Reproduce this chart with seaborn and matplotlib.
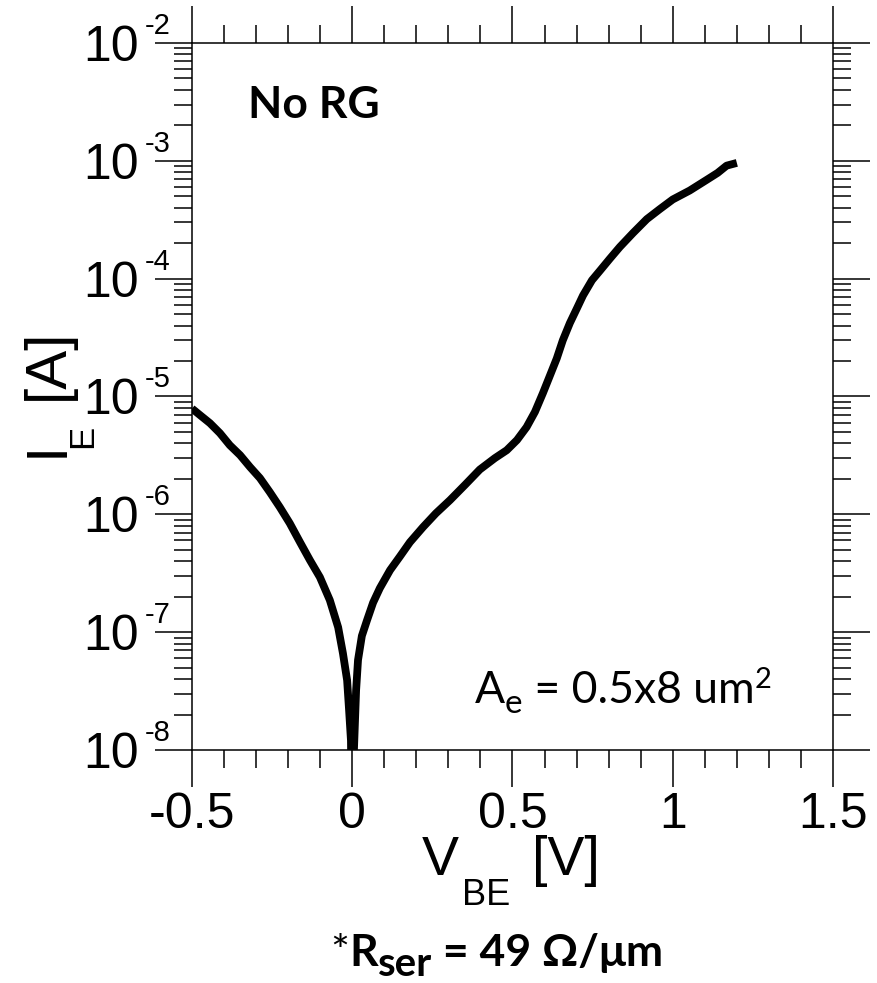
import numpy as np
import pandas as pd
import matplotlib
matplotlib.use("Agg")
import matplotlib.pyplot as plt
from matplotlib.ticker import (FixedLocator, FixedFormatter, LogLocator,
                               MultipleLocator, NullFormatter)
import seaborn as sns

# Emitter current vs. base-emitter voltage (no RG)
v_be = [-0.500, -0.475, -0.444, -0.413, -0.382, -0.350, -0.319, -0.288,
        -0.257, -0.226, -0.195, -0.163, -0.132, -0.101, -0.070, -0.044,
        -0.029, -0.016, -0.010, -0.004, 0.000, 0.004, 0.012, 0.018,
        0.030, 0.046, 0.065, 0.086, 0.118, 0.149, 0.180, 0.221,
        0.261, 0.305, 0.352, 0.398, 0.445, 0.482, 0.514, 0.544,
        0.570, 0.595, 0.617, 0.638, 0.657, 0.679, 0.701, 0.720,
        0.748, 0.773, 0.804, 0.835, 0.876, 0.919, 0.960, 1.000,
        1.053, 1.106, 1.140, 1.168, 1.200]
i_e = [7.9e-6, 6.95e-6, 5.94e-6, 4.89e-6, 3.86e-6, 3.18e-6, 2.52e-6, 2.03e-6,
       1.54e-6, 1.15e-6, 8.4e-7, 5.8e-7, 4.08e-7, 2.93e-7, 1.87e-7, 1.10e-7,
       6.6e-8, 3.9e-8, 2.2e-8, 1.2e-8, 1e-9, 8e-9, 3.2e-8, 5.8e-8,
       9.3e-8, 1.26e-7, 1.78e-7, 2.36e-7, 3.36e-7, 4.4e-7, 5.8e-7, 7.8e-7,
       1.02e-6, 1.32e-6, 1.78e-6, 2.4e-6, 3.0e-6, 3.5e-6, 4.27e-6, 5.5e-6,
       7.4e-6, 1.07e-5, 1.51e-5, 2.1e-5, 3.0e-5, 4.2e-5, 5.6e-5, 7.2e-5,
       9.7e-5, 1.17e-4, 1.48e-4, 1.86e-4, 2.44e-4, 3.2e-4, 3.9e-4, 4.7e-4,
       5.6e-4, 6.9e-4, 7.9e-4, 9.1e-4, 9.6e-4]

x_ticks = [-0.5, 0.0, 0.5, 1.0, 1.5]
x_ticklabels = ["-0.5", "0", "0.5", "1", "1.5"]
y_exponents = [-8, -7, -6, -5, -4, -3, -2]

sns.set_style("ticks")
plt.rcParams["font.family"] = ["Liberation Sans", "DejaVu Sans"]
plt.rcParams["axes.unicode_minus"] = False
plt.rcParams["text.color"] = "black"

W_PX, H_PX = 878, 983
fig = plt.figure(figsize=(W_PX / 100, H_PX / 100), dpi=100)
ax = fig.add_axes([192 / W_PX, 1 - 750 / H_PX, (833 - 192) / W_PX, (750 - 43) / H_PX])

df = pd.DataFrame({"V_BE": v_be, "I_E": i_e})
ax.set_yscale("log")
sns.lineplot(data=df, x="V_BE", y="I_E", ax=ax, color="black", lw=5.6,
             sort=False, estimator=None, solid_capstyle="butt",
             solid_joinstyle="round")
ax.set_xlim(-0.5, 1.5)
ax.set_ylim(1e-8, 1e-2)
ax.set_xlabel("")
ax.set_ylabel("")

# ticks outward on all four sides
ax.xaxis.set_major_locator(FixedLocator(x_ticks))
ax.xaxis.set_major_formatter(FixedFormatter(x_ticklabels))
ax.xaxis.set_minor_locator(MultipleLocator(0.1))
ax.yaxis.set_major_locator(FixedLocator([10.0 ** e for e in y_exponents]))
ax.yaxis.set_major_formatter(FixedFormatter(["10"] * len(y_exponents)))
ax.yaxis.set_minor_locator(LogLocator(base=10, subs=np.arange(2, 10), numticks=100))
ax.yaxis.set_minor_formatter(NullFormatter())
ax.tick_params(which="both", direction="out", top=True, right=True,
               width=1.1, color="black", labelcolor="black")
ax.tick_params(which="major", length=26.5)
ax.tick_params(which="minor", length=13)
ax.tick_params(axis="y", which="major", labelsize=36, pad=12)
ax.tick_params(axis="x", which="major", labelsize=36, pad=4)
for s in ax.spines.values():
    s.set_linewidth(1.1)
    s.set_color("black")

# decade exponents next to the "10" labels
ytrans = ax.get_yaxis_transform()
for e in y_exponents:
    ax.annotate(f"{e}", xy=(-47 / 641, 10.0 ** e), xycoords=ytrans,
                xytext=(0, 6.5), textcoords="offset points",
                ha="left", va="baseline", fontsize=21, annotation_clip=False)


def place(x_px, y_px, text, size, rotation=0, **kw):
    """Text anchored at its left baseline; pixel position measured from the top-left."""
    return fig.text(x_px / W_PX, 1 - y_px / H_PX, text, fontsize=size,
                    rotation=rotation, rotation_mode="anchor",
                    ha="left", va="baseline", **kw)


def runs(x_px, y_px, parts, **kw):
    """Horizontal chain of text runs; each part is (text, size, drop_px, extra kwargs)."""
    renderer = fig.canvas.get_renderer()
    x = x_px
    for text, size, drop, extra in parts:
        t = place(x, y_px + drop, text, size, **kw, **extra)
        x += t.get_window_extent(renderer).width


# axis labels
place(422, 875, "V", 40)
place(462, 905, "BE", 26)
place(532, 875, "[V]", 40)

place(63, 457, "I", 42, rotation=90)
place(92, 448, "E", 25, rotation=90)
place(63, 400, "[A]", 42, rotation=90)

# annotations
lato = ["Lato", "DejaVu Sans"]
place(248, 118, "No RG", 32, family=lato, fontweight="bold")
runs(475, 703, [("A", 32, 0, {}), ("e", 24, 10, {}),
                (" = 0.5x8 um", 32, 0, {}), ("2", 21, -15, {})],
     family=lato)
runs(330, 966, [("*", 32, 0, {"fontweight": "normal"}),
                ("R", 32, 0, {"fontweight": "bold"}),
                ("ser", 29, 10, {"fontweight": "bold"}),
                (" = 49 Ω/μm", 32, 0, {"fontweight": "bold"})],
     family=lato)

fig.savefig("out.png", dpi=100, facecolor="white")
